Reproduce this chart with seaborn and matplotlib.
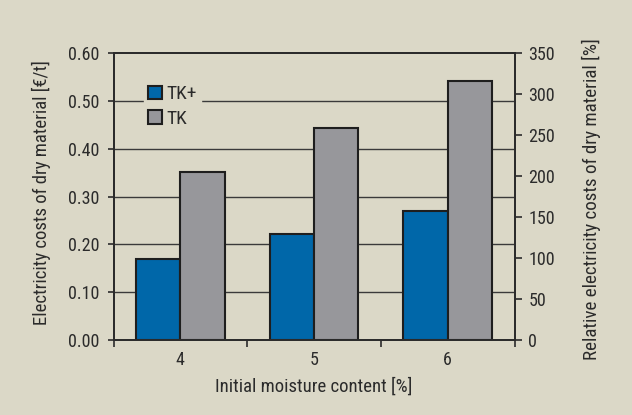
import matplotlib
matplotlib.use("Agg")
import matplotlib.pyplot as plt
import seaborn as sns
import pandas as pd
from matplotlib.patches import Patch

# Data
moisture = ["4", "5", "6"]
tk_plus = [0.17, 0.222, 0.27]
tk = [0.351, 0.443, 0.541]
series_names = ["TK+", "TK"]
left_ticks = [0.0, 0.1, 0.2, 0.3, 0.4, 0.5, 0.6]
right_ticks = [0, 50, 100, 150, 200, 250, 300, 350]

BG = "#dbd8c7"
BLUE = "#0067a9"
GREY = "#97979b"
INK = "#2b2b2b"

sns.set_theme(style="white")
plt.rcParams["font.family"] = ["Roboto Condensed", "DejaVu Sans"]
plt.rcParams["font.weight"] = "normal"
plt.rcParams["text.color"] = INK
plt.rcParams["axes.labelcolor"] = INK
plt.rcParams["xtick.color"] = INK
plt.rcParams["ytick.color"] = INK

df = pd.DataFrame({
    "moisture": moisture * 2,
    "cost": tk_plus + tk,
    "series": [series_names[0]] * 3 + [series_names[1]] * 3,
})

fig = plt.figure(figsize=(6.32, 4.15), dpi=100, facecolor=BG)
ax = fig.add_axes([0.1796, 0.1807, 0.6345, 0.6915])
ax.set_facecolor(BG)

for y in left_ticks[1:-1]:
    ax.axhline(y, color="#3a3a3a", lw=1.0, zorder=0)

sns.barplot(data=df, x="moisture", y="cost", hue="series",
            palette=[BLUE, GREY], width=0.664, gap=0,
            edgecolor="#1e1e1e", linewidth=1.5, saturation=1,
            legend=False, ax=ax, zorder=2)

ax.set_xlim(-0.5, 2.5)
ax.set_ylim(0, 0.6)
ax.set_yticks(left_ticks)
ax.set_yticklabels([f"{v:.2f}" for v in left_ticks])
ax.set_xticks([0, 1, 2])
ax.set_xticklabels(moisture)
ax.set_xticks([-0.5, 0.5, 1.5, 2.5], minor=True)
ax.tick_params(axis="x", which="major", length=0, labelsize=13, pad=8)
ax.tick_params(axis="x", which="minor", length=5, width=1.2, direction="out",
               bottom=True, color=INK)
ax.tick_params(axis="y", length=4, width=1.2, direction="out", labelsize=13,
               left=True, pad=6)
ax.set_xlabel("Initial moisture content [%]", fontsize=13.5, labelpad=6)
ax.set_ylabel("Electricity costs of dry material [€/t]", fontsize=13.5)
ax.yaxis.set_label_coords(-0.156, 0.515)

for s in ax.spines.values():
    s.set_visible(True)
    s.set_color(INK)
    s.set_linewidth(1.3)

ax2 = ax.twinx()
ax2.set_ylim(0, 350)
ax2.set_yticks(right_ticks)
ax2.set_yticklabels([str(v) for v in right_ticks])
ax2.tick_params(axis="y", length=5, width=1.2, direction="out", labelsize=13,
                right=True, pad=5, colors=INK)
ax2.set_ylabel("Relative electricity costs of dry material [%]", fontsize=13.7)
ax2.yaxis.set_label_coords(1.168, 0.49)
for s in ax2.spines.values():
    s.set_visible(True)
    s.set_color(INK)
    s.set_linewidth(1.3)

handles = [Patch(facecolor=BLUE, edgecolor="#1e1e1e", lw=1.5),
           Patch(facecolor=GREY, edgecolor="#1e1e1e", lw=1.5)]
leg = ax.legend(handles, series_names, loc="upper left",
                bbox_to_anchor=(0.075, 0.905), frameon=True, fontsize=14,
                handlelength=0.7, handleheight=0.7, handletextpad=0.2,
                labelspacing=0.35, borderpad=0.25, borderaxespad=0)
leg.get_frame().set_facecolor(BG)
leg.get_frame().set_edgecolor(BG)
leg.get_frame().set_alpha(1)
leg.set_zorder(5)

fig.savefig("out.png", dpi=100, facecolor=BG)
